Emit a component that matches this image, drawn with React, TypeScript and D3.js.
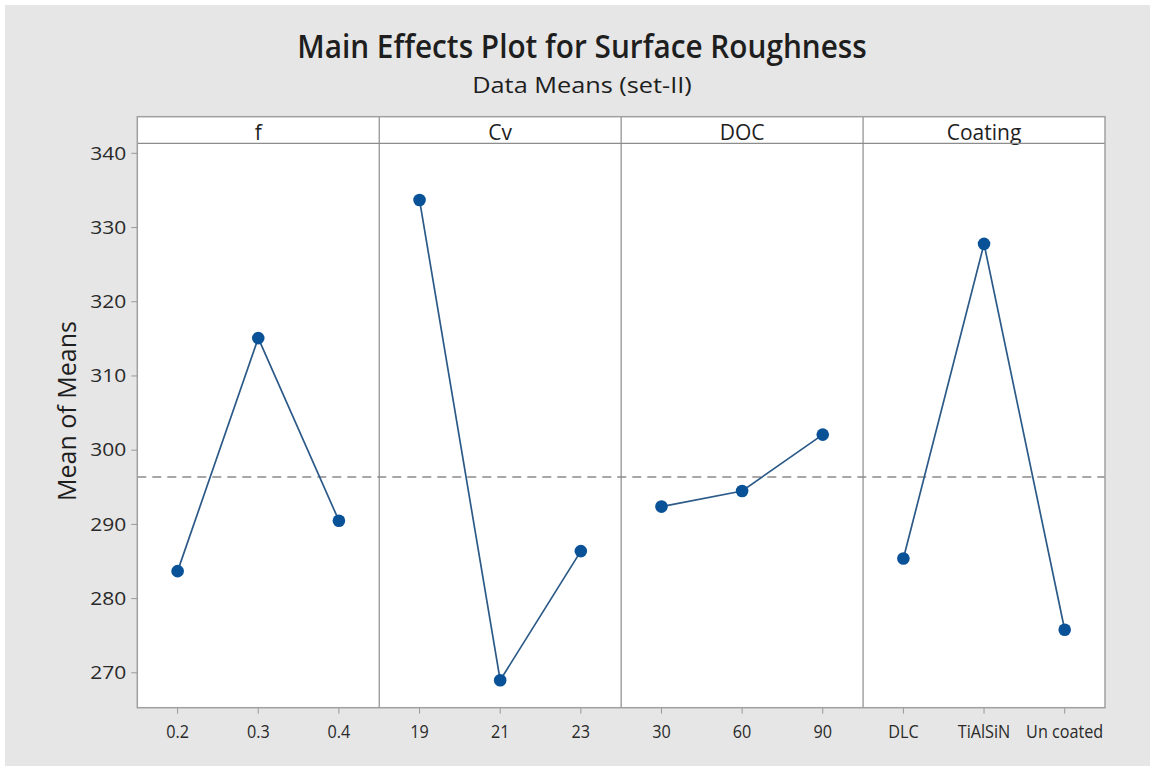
import React from "react";
import * as d3 from "d3";

const factors = ["f", "Cv", "DOC", "Coating"];
const levels: string[][] = [
  ["0.2", "0.3", "0.4"],
  ["19", "21", "23"],
  ["30", "60", "90"],
  ["DLC", "TiAlSiN", "Un coated"],
];
const meansF = [283.7, 315.1, 290.5];
const meansCv = [333.7, 269.0, 286.4];
const meansDOC = [292.4, 294.5, 302.1];
const meansCoating = [285.4, 327.8, 275.8];
const seriesMeans = [meansF, meansCv, meansDOC, meansCoating];
const grandMean = 296.4;
const yTicks = [270, 280, 290, 300, 310, 320, 330, 340];

const W = 1154;
const H = 770;
const plotL = 137.3;
const plotR = 1105;
const headT = 116.7;
const plotT = 143.3;
const plotB = 707.7;
const FONT = "'Open Sans', 'Noto Sans', sans-serif";

function T({ x, y, size, sx = 1, anchor = "middle", fill = "#1e1e1e", children, rotate = false, weight = 400 }: any) {
  const tr = rotate
    ? `translate(${x},${y}) scale(${sx},1) rotate(-90)`
    : `translate(${x},${y}) scale(${sx},1)`;
  return (
    <text transform={tr} fontSize={size} textAnchor={anchor} fill={fill} fontFamily={FONT} fontWeight={weight}>
      {children}
    </text>
  );
}

export default function App() {
  const y = d3.scaleLinear().domain([265.3, 341.35]).range([plotB, plotT]);
  const panelW = (plotR - plotL) / factors.length;
  const line = d3.line<[number, number]>().x((d) => d[0]).y((d) => d[1]);

  return (
    <svg width={W} height={H} style={{ position: "absolute", left: 0, top: 0 }}>
      <rect x={0} y={0} width={W} height={H} fill="#ffffff" />
      <rect x={5} y={5} width={1145} height={761} fill="#e6e6e6" />
      <T x={582} y={58} size={32} sx={0.93} weight={600}>Main Effects Plot for Surface Roughness</T>
      <T x={582} y={93} size={22} sx={1.15}>Data Means (set-II)</T>

      <rect x={plotL} y={headT} width={plotR - plotL} height={plotB - headT} fill="#ffffff" />

      <line
        x1={plotL}
        x2={plotR}
        y1={y(grandMean)}
        y2={y(grandMean)}
        stroke="#8a8a8a"
        strokeWidth={1.5}
        strokeDasharray="9,6"
      />

      {factors.map((fac, i) => {
        const x0 = plotL + i * panelW;
        const x = d3.scalePoint<string>().domain(levels[i]).range([x0, x0 + panelW]).padding(0.5);
        const pts: [number, number][] = levels[i].map((lv, j) => [x(lv) as number, y(seriesMeans[i][j])]);
        return (
          <g key={fac}>
            {i > 0 && (
              <line x1={x0} x2={x0} y1={headT} y2={plotB} stroke="#8c8c8c" strokeWidth={1.2} />
            )}
            <T x={x0 + panelW / 2} y={139.5} size={21}>{fac}</T>
            <path d={line(pts) || ""} fill="none" stroke="#2c5a88" strokeWidth={1.7} />
            {pts.map((p, j) => (
              <circle key={j} cx={p[0]} cy={p[1]} r={6.3} fill="#0a5298" />
            ))}
            {levels[i].map((lv) => (
              <g key={lv}>
                <line x1={x(lv)} x2={x(lv)} y1={plotB} y2={plotB + 6} stroke="#999" strokeWidth={1} />
                <T x={x(lv)} y={738} size={18} sx={0.9} fill="#2a2a2a">{lv}</T>
              </g>
            ))}
          </g>
        );
      })}

      <line x1={plotL} x2={plotR} y1={plotT} y2={plotT} stroke="#8c8c8c" strokeWidth={1.2} />
      <rect
        x={plotL}
        y={headT}
        width={plotR - plotL}
        height={plotB - headT}
        fill="none"
        stroke="#a0a0a0"
        strokeWidth={1.5}
      />

      {yTicks.map((t) => (
        <g key={t}>
          <line x1={plotL - 6} x2={plotL} y1={y(t)} y2={y(t)} stroke="#999" strokeWidth={1} />
          <T x={plotL - 11} y={y(t) + 6.3} size={17.5} sx={1.2} anchor="end" fill="#2a2a2a">{t}</T>
        </g>
      ))}
      <T x={76} y={411} size={25} rotate>Mean of Means</T>
    </svg>
  );
}
